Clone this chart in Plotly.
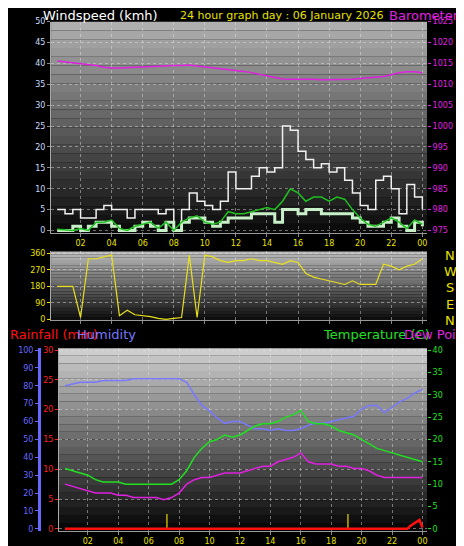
import plotly.graph_objects as go

# half-hour samples 00:30 .. 24:00
hours = [0.5 * i for i in range(1, 49)]
hour_ticks = [2, 4, 6, 8, 10, 12, 14, 16, 18, 20, 22, 24]
hour_labels = ["02", "04", "06", "08", "10", "12", "14", "16", "18", "20", "22", "00"]

wind_gust = [5, 4, 5, 3, 3, 5, 6, 5, 5, 3, 5, 5, 5, 4, 5, 0, 5, 9, 7, 6, 5, 7, 14, 10,
             10, 13, 15, 14, 15, 25, 24, 19, 17, 15, 16, 14, 15, 12, 9, 6, 5, 12, 13, 10, 4, 11, 8, 5]
wind_lull = [0, 0, 1, 0, 1, 2, 2, 1, 0, 0, 1, 2, 1, 0, 2, 0, 2, 3, 3, 2, 1, 2, 3, 3,
             3, 4, 4, 4, 2, 5, 5, 4, 5, 5, 4, 4, 4, 4, 3, 2, 1, 1, 2, 3, 1, 0, 2, 1]
wind_avg = [0.3, 0.2, 0, 0.5, 0, 2, 2, 2.5, 0.5, 0, 1, 1.5, 2, 0.5, 2, 0, 2, 3, 3.5, 2, 1.5, 2, 4.5, 4,
            4, 4.5, 5, 5.5, 5, 7, 10, 9, 7, 8, 8, 7, 8, 7.5, 5, 3, 1.5, 1, 2, 3, 2, 0.5, 2.5, 1.5]
barometer = [1015.6, 1015.4, 1015.2, 1015, 1014.8, 1014.5, 1014.1, 1013.9, 1013.9, 1014.0, 1014.1, 1014.2,
             1014.3, 1014.4, 1014.4, 1014.5, 1014.5, 1014.6, 1014.4, 1014.2, 1014.0, 1013.8, 1013.6, 1013.4,
             1013.1, 1012.8, 1012.4, 1012.0, 1011.6, 1011.3, 1011.2, 1011.2, 1011.3, 1011.2, 1011.1, 1011.1,
             1011.2, 1011.2, 1011.2, 1011.4, 1011.6, 1011.8, 1011.9, 1012.3, 1012.8, 1013, 1013, 1012.8]
wind_dir = [180, 180, 180, 10, 330, 330, 340, 350, 20, 50, 25, 20, 15, 5, 0, 5, 10, 350, 10, 350,
            340, 320, 310, 320, 320, 330, 320, 320, 310, 300, 320, 310, 250, 230, 220, 210, 200, 190,
            210, 190, 190, 190, 300, 290, 270, 290, 300, 330]
humidity = [80, 81, 82, 82, 82, 83, 83, 83, 83, 84, 84, 84, 84, 84, 84, 84, 82, 75, 69, 66, 62, 59, 60, 60,
            58, 56, 56, 55, 56, 55, 55, 56, 58, 59, 59, 60, 61, 62, 63, 67, 69, 69, 65, 68, 71, 73, 76, 78]
temperature = [13.5, 13, 12.5, 12, 11, 10.5, 10.5, 10.5, 10, 10, 10, 10, 10, 10, 10, 11, 13, 16, 18, 19.5,
               20, 21, 20.5, 21, 22, 23, 23.5, 23.5, 24, 25, 25.5, 26.5, 24, 23.5, 23.5, 23, 22, 21.5, 21, 20,
               19, 18, 17.5, 17, 16.5, 16, 15.5, 15]
dew_point = [10, 9.5, 9, 8.5, 8, 8, 8, 7.5, 7.5, 7, 7, 7, 7, 6.5, 7, 8, 10, 11, 11.5, 11.5, 12, 12.5, 12.5,
             12.5, 13, 13.5, 14, 14, 15, 15.5, 16, 17, 15, 14.5, 14.5, 14.5, 14, 14, 13.5, 13.5, 13, 12, 11.5,
             11.5, 11.5, 11.5, 11.5, 11.5]
rain_t = [0.5, 23.0, 23.2, 23.5, 23.8, 24.0]
rain_mm = [0, 0, 0.5, 1.0, 1.5, 0.2]
sun_events = [7.2, 19.1]

XR = [0.1, 24.3]
TOP = [0.59, 0.982]
MID = [0.427, 0.555]
BOT = [0.036, 0.375]
FONT = "DejaVu Sans"

fig = go.Figure()

fig.add_trace(go.Scatter(x=hours, y=wind_gust, mode="lines", line=dict(color="#f0f0f0", width=1.5, shape="hv"),
                         xaxis="x", yaxis="y"))
fig.add_trace(go.Scatter(x=hours, y=wind_lull, mode="lines", line=dict(color="#c8f0c8", width=3, shape="hv"),
                         xaxis="x", yaxis="y"))
fig.add_trace(go.Scatter(x=hours, y=wind_avg, mode="lines", line=dict(color="#20c020", width=1.5),
                         xaxis="x", yaxis="y"))
fig.add_trace(go.Scatter(x=hours, y=barometer, mode="lines", line=dict(color="#e020e0", width=1.5),
                         xaxis="x", yaxis="y2"))
fig.add_trace(go.Scatter(x=hours, y=wind_dir, mode="lines", line=dict(color="#e8e020", width=1.2),
                         xaxis="x2", yaxis="y3"))
fig.add_trace(go.Scatter(x=hours, y=humidity, mode="lines", line=dict(color="#7878ff", width=1.5),
                         xaxis="x3", yaxis="y4"))
fig.add_trace(go.Scatter(x=hours, y=temperature, mode="lines", line=dict(color="#20e020", width=1.5),
                         xaxis="x3", yaxis="y6"))
fig.add_trace(go.Scatter(x=hours, y=dew_point, mode="lines", line=dict(color="#e020e0", width=1.5),
                         xaxis="x3", yaxis="y6"))
sx, sy = [], []
for t in sun_events:
    sx += [t, t, None]
    sy += [0, 2.5, None]
fig.add_trace(go.Scatter(x=sx, y=sy, mode="lines", line=dict(color="#c0b000", width=1.5),
                         xaxis="x3", yaxis="y5"))
fig.add_trace(go.Scatter(x=rain_t, y=rain_mm, mode="lines", line=dict(color="#ff1010", width=2.5),
                         xaxis="x3", yaxis="y5"))

# gradient backgrounds
shapes = []
def gradient(xd, yd, top, bottom, n=24):
    for i in range(n):
        f = i / (n - 1)
        c = int(top + (bottom - top) * f)
        y1 = yd[1] - (yd[1] - yd[0]) * i / n
        y0 = yd[1] - (yd[1] - yd[0]) * (i + 1) / n
        shapes.append(dict(type="rect", xref="paper", yref="paper", x0=xd[0], x1=xd[1], y0=y0, y1=y1,
                           fillcolor=f"rgb({c},{c},{c})", line=dict(width=0), layer="below"))
gradient([0.093, 0.905], TOP, 175, 12)
gradient([0.093, 0.905], MID, 185, 15)
gradient([0.11, 0.905], BOT, 205, 8)

grid = dict(showgrid=True, gridcolor="rgba(230,230,230,0.45)", griddash="dot", gridwidth=1, zeroline=False)
tickf = dict(family=FONT, size=8)
xbase = dict(range=XR, tickvals=hour_ticks, ticktext=hour_labels, tickfont=dict(tickf, color="#e8e000"),
             ticks="outside", ticklen=3, tickcolor="#888", showline=True, linecolor="#999", **grid)

fig.update_layout(
    width=464, height=546, margin=dict(l=0, r=0, t=0, b=0),
    paper_bgcolor="black", plot_bgcolor="rgba(0,0,0,0)", showlegend=False,
    shapes=shapes,
    xaxis=dict(xbase, domain=[0.093, 0.905], anchor="y"),
    xaxis2=dict(xbase, domain=[0.093, 0.905], anchor="y3", showticklabels=False),
    xaxis3=dict(xbase, domain=[0.11, 0.905], anchor="y5"),
    yaxis=dict(grid, domain=TOP, range=[-0.5, 50], dtick=5, tickfont=dict(tickf, color="#c8dcff"),
               ticks="outside", ticklen=3, tickcolor="#888", showline=True, linecolor="#aaa"),
    yaxis2=dict(domain=TOP, range=[974.5, 1025], dtick=5, overlaying="y", side="right", anchor="x",
                tickfont=dict(tickf, color="#e020e0"), ticks="outside", ticklen=3, tickcolor="#e020e0",
                showgrid=False, zeroline=False),
    yaxis3=dict(grid, domain=MID, range=[-5, 370], tickvals=[0, 90, 180, 270, 360], anchor="x2",
                tickfont=dict(tickf, color="#e8e000"), ticks="outside", ticklen=3, tickcolor="#e8e000",
                showline=True, linecolor="#aaa"),
    yaxis4=dict(domain=BOT, range=[-1, 101], dtick=10, anchor="free", position=0.067, overlaying="y5",
                tickfont=dict(tickf, color="#6868ff"), ticks="outside", ticklen=3, tickcolor="#6868ff",
                showline=True, linecolor="#6868ff", linewidth=3, showgrid=False, zeroline=False),
    yaxis5=dict(grid, domain=BOT, range=[-0.3, 30.3], dtick=5, anchor="x3",
                tickfont=dict(tickf, color="#ff2020"), ticks="outside", ticklen=3, tickcolor="#ff2020",
                showline=True, linecolor="#aaa"),
    yaxis6=dict(domain=BOT, range=[-0.4, 40.4], dtick=5, overlaying="y5", side="right", anchor="x3",
                tickfont=dict(tickf, color="#20e020"), ticks="outside", ticklen=3, tickcolor="#20e020",
                showgrid=False, zeroline=False),
)

def label(x, y, text, color, size=13, anchor="left"):
    fig.add_annotation(x=x, y=y, xref="paper", yref="paper", text=text, showarrow=False,
                       xanchor=anchor, yanchor="middle", font=dict(family=FONT, size=size, color=color))

label(0.072, 0.993, "Windspeed (kmh)", "white")
label(0.368, 0.993, "24 hour graph day : 06 January 2026", "#e8e000", size=11)
label(0.818, 0.993, "Barometer (hpa)", "#e020e0")
for i, c in enumerate(["N", "W", "S", "E", "N"]):
    label(0.955, 0.548 - i * 0.0305, c, "#e8e000", size=13, anchor="center")
label(0.0, 0.40, "Rainfall (mm)", "#ff1010")
label(0.144, 0.40, "Humidity", "#7878ff")
label(0.675, 0.40, "Temperature (C)", "#20e020")
label(0.85, 0.40, "Dew Point (C)", "#e020e0")

fig.write_html("out.html")
